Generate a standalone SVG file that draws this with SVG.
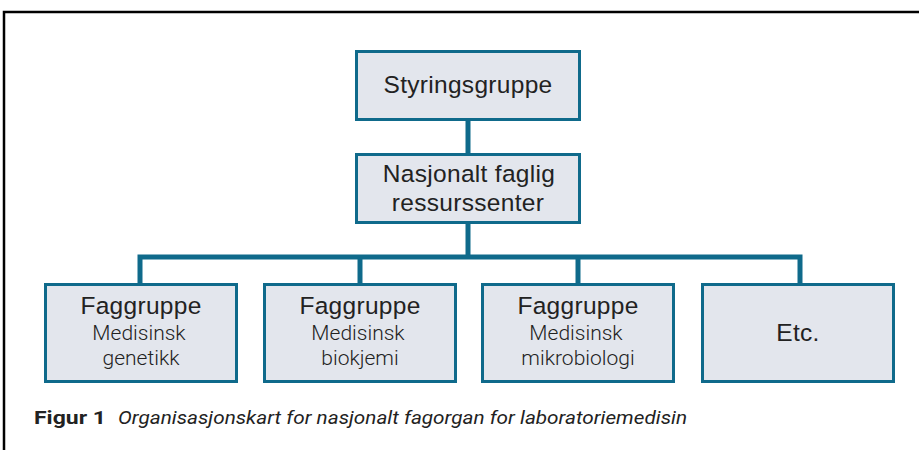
<svg xmlns="http://www.w3.org/2000/svg" width="919" height="450" viewBox="0 0 919 450">
<style>
.box{fill:#e3e6ed;stroke:#0f6a8b;stroke-width:3}
.con{fill:none;stroke:#0f6a8b;stroke-width:5}
.t{font-family:"Liberation Sans",Arial,sans-serif;fill:#222;text-anchor:middle}
.big{font-size:24.5px;letter-spacing:0.3px}
.sm{font-family:Roboto,"Liberation Sans",sans-serif;font-weight:300;font-size:21px}
.cap{font-family:Roboto,"Liberation Sans",sans-serif;font-size:19px;fill:#222}
</style>
<rect width="919" height="450" fill="#fff"/>
<path d="M4,450 V12 H919" fill="none" stroke="#000" stroke-width="2.5"/>
<g id="connectors">
<path class="con" d="M468,120 V153"/>
<path class="con" d="M468,223 V257"/>
<path class="con" d="M140,283 V257 H800 V283"/>
<path class="con" d="M360,257 V283"/>
<path class="con" d="M578,257 V283"/>
</g>
<g id="styringsgruppe">
<rect class="box" x="356.5" y="51.5" width="223" height="68"/>
<text class="t big" x="468" y="93">Styringsgruppe</text>
</g>
<g id="ressurssenter">
<rect class="box" x="356.5" y="154.5" width="223" height="68"/>
<text class="t big" x="469" y="182">Nasjonalt faglig</text>
<text class="t big" x="468" y="211">ressurssenter</text>
</g>
<g id="genetikk">
<rect class="box" x="45.5" y="284.5" width="191" height="97"/>
<text class="t big" x="141" y="314">Faggruppe</text>
<text class="t sm" x="139" y="340">Medisinsk</text>
<text class="t sm" x="141" y="365">genetikk</text>
</g>
<g id="biokjemi">
<rect class="box" x="264.5" y="284.5" width="191" height="97"/>
<text class="t big" x="360" y="314">Faggruppe</text>
<text class="t sm" x="358" y="340">Medisinsk</text>
<text class="t sm" x="360" y="365">biokjemi</text>
</g>
<g id="mikrobiologi">
<rect class="box" x="482.5" y="284.5" width="191" height="97"/>
<text class="t big" x="578" y="314">Faggruppe</text>
<text class="t sm" x="576" y="340">Medisinsk</text>
<text class="t sm" x="578" y="365">mikrobiologi</text>
</g>
<g id="etc">
<rect class="box" x="702.5" y="284.5" width="191" height="97"/>
<text class="t big" x="798" y="341">Etc.</text>
</g>
<g id="caption">
<text class="cap" x="34" y="424" font-weight="bold" textLength="72" lengthAdjust="spacingAndGlyphs">Figur 1</text>
<text class="cap" x="118" y="424" font-style="italic" textLength="569" lengthAdjust="spacingAndGlyphs" fill="#333">Organisasjonskart for nasjonalt fagorgan for laboratoriemedisin</text>
</g>
</svg>
